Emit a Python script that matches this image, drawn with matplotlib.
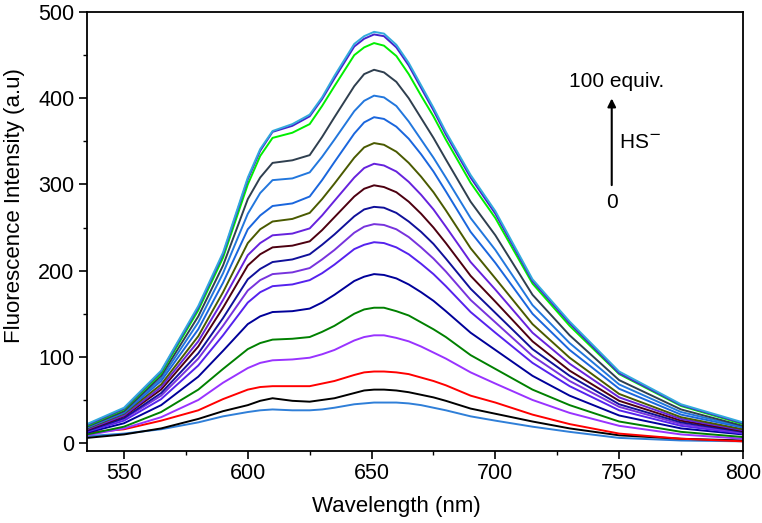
import matplotlib.pyplot as plt
from matplotlib.ticker import MultipleLocator

plt.rcParams['font.family'] = ['Liberation Sans', 'DejaVu Sans']

wavelength = [535, 550, 565, 580, 590, 600, 605, 610, 618, 625, 630, 635, 643, 647,
              651, 655, 660, 665, 670, 675, 680, 690, 700, 715, 730, 750, 775, 800]

# fluorescence intensity (a.u.), from 0 equiv. (bottom) to 100 equiv. (top)
step_00 = [8, 11, 16, 24, 31, 36, 38, 39, 38, 38, 39, 41, 45, 46, 47, 47, 47, 46, 44, 41, 38, 31, 26, 19, 13, 6, 3, 2]
step_01 = [6, 10, 17, 28, 37, 44, 49, 52, 49, 48, 50, 52, 58, 61, 62, 62, 61, 59, 56, 53, 49, 40, 34, 25, 17, 9, 5, 3]
step_02 = [12, 16, 26, 38, 51, 62, 65, 66, 66, 66, 69, 72, 79, 82, 83, 83, 82, 80, 76, 72, 67, 55, 47, 33, 22, 11, 5, 2]
step_03 = [9, 17, 30, 50, 70, 87, 93, 96, 97, 99, 103, 108, 119, 123, 125, 125, 122, 118, 112, 105, 98, 82, 69, 50, 35, 20, 10, 5]
step_04 = [10, 19, 36, 62, 86, 109, 116, 120, 121, 123, 129, 136, 150, 155, 157, 157, 153, 148, 140, 132, 123, 102, 86, 62, 44, 25, 13, 7]
step_05 = [12, 23, 44, 77, 107, 138, 147, 152, 153, 156, 163, 172, 188, 193, 196, 195, 191, 184, 175, 165, 153, 128, 108, 78, 55, 32, 17, 10]
step_06 = [13, 26, 51, 90, 125, 163, 175, 182, 184, 189, 197, 207, 225, 230, 233, 232, 227, 219, 208, 196, 182, 152, 128, 93, 66, 38, 20, 11]
step_07 = [14, 28, 55, 98, 136, 177, 189, 196, 198, 203, 213, 224, 244, 251, 254, 253, 248, 239, 227, 214, 199, 166, 140, 101, 72, 42, 22, 12]
step_08 = [14, 29, 58, 104, 145, 190, 202, 210, 213, 219, 230, 242, 263, 271, 274, 273, 267, 257, 245, 231, 214, 179, 151, 109, 78, 45, 24, 13]
step_09 = [15, 31, 62, 112, 157, 206, 219, 227, 229, 234, 247, 262, 286, 295, 299, 297, 291, 280, 266, 250, 232, 194, 164, 118, 84, 49, 26, 14]
step_10 = [16, 32, 65, 118, 166, 218, 232, 241, 243, 249, 264, 281, 308, 319, 324, 322, 315, 303, 288, 271, 251, 210, 178, 128, 92, 53, 28, 15]
step_11 = [17, 34, 68, 124, 175, 232, 248, 257, 260, 267, 283, 301, 331, 343, 348, 346, 338, 325, 309, 291, 270, 226, 191, 138, 99, 57, 30, 16]
step_12 = [18, 35, 72, 132, 186, 248, 264, 275, 278, 286, 305, 326, 359, 372, 378, 376, 367, 353, 335, 315, 292, 245, 209, 150, 108, 63, 33, 18]
step_13 = [18, 36, 75, 140, 197, 266, 290, 305, 307, 314, 332, 352, 385, 397, 403, 401, 391, 373, 352, 331, 308, 261, 224, 160, 116, 68, 36, 19]
step_14 = [19, 37, 78, 147, 206, 283, 308, 325, 328, 334, 355, 378, 414, 428, 433, 430, 419, 400, 377, 354, 329, 280, 241, 172, 125, 73, 39, 20]
step_15 = [20, 39, 81, 154, 215, 300, 333, 354, 360, 370, 391, 414, 450, 459, 464, 461, 449, 428, 403, 379, 352, 302, 261, 185, 136, 80, 43, 22]
step_16 = [21, 40, 83, 157, 219, 306, 339, 361, 368, 379, 399, 423, 460, 469, 474, 472, 459, 438, 412, 386, 358, 308, 266, 188, 139, 81, 44, 23]
step_17 = [22, 41, 84, 159, 221, 308, 341, 362, 370, 381, 401, 426, 463, 472, 477, 475, 462, 441, 415, 389, 361, 311, 269, 190, 141, 83, 45, 24]

spectra = [step_00, step_01, step_02, step_03, step_04, step_05, step_06, step_07, step_08,
           step_09, step_10, step_11, step_12, step_13, step_14, step_15, step_16, step_17]
colors = ['#2f7fd8', '#000000', '#ff0000', '#9933ff', '#008000', '#000099',
          '#5522ee', '#7733dd', '#10109a', '#4d0010', '#6622dd', '#4a5a00',
          '#1a66dd', '#2277dd', '#2f3f4f', '#00ee00', '#4422cc', '#33aadd']

fig = plt.figure(figsize=(7.62, 5.23), dpi=100)
ax = fig.add_axes([0.114, 0.138, 0.861, 0.839])

for y, c in zip(spectra, colors):
    ax.plot(wavelength, y, color=c, lw=1.4)

ax.set_xlim(535, 800)
ax.set_ylim(-9, 500)
ax.xaxis.set_major_locator(MultipleLocator(50))
ax.xaxis.set_minor_locator(MultipleLocator(25))
ax.yaxis.set_major_locator(MultipleLocator(100))
ax.yaxis.set_minor_locator(MultipleLocator(50))
ax.tick_params(which='major', direction='out', length=6, width=1.2, labelsize=15.5, pad=3)
ax.tick_params(which='minor', direction='out', length=3, width=1.0)
for s in ax.spines.values():
    s.set_linewidth(1.3)

ax.set_xlabel('Wavelength (nm)', fontsize=16)
ax.set_ylabel('Fluorescence Intensity (a.u)', fontsize=16)
ax.xaxis.set_label_coords(0.471, -0.102)
ax.yaxis.set_label_coords(-0.095, 0.56)

# titration arrow
ax.annotate('', xy=(747, 403), xytext=(747, 296),
            arrowprops=dict(arrowstyle='-|>', color='black', lw=1.5, mutation_scale=12))
ax.text(747, 279, '0', ha='center', va='center', fontsize=15)
ax.text(750, 349, 'HS$^{-}$', ha='left', va='center', fontsize=15)
ax.text(749, 419, '100 equiv.', ha='center', va='center', fontsize=15)

fig.savefig('out.png', dpi=100)
